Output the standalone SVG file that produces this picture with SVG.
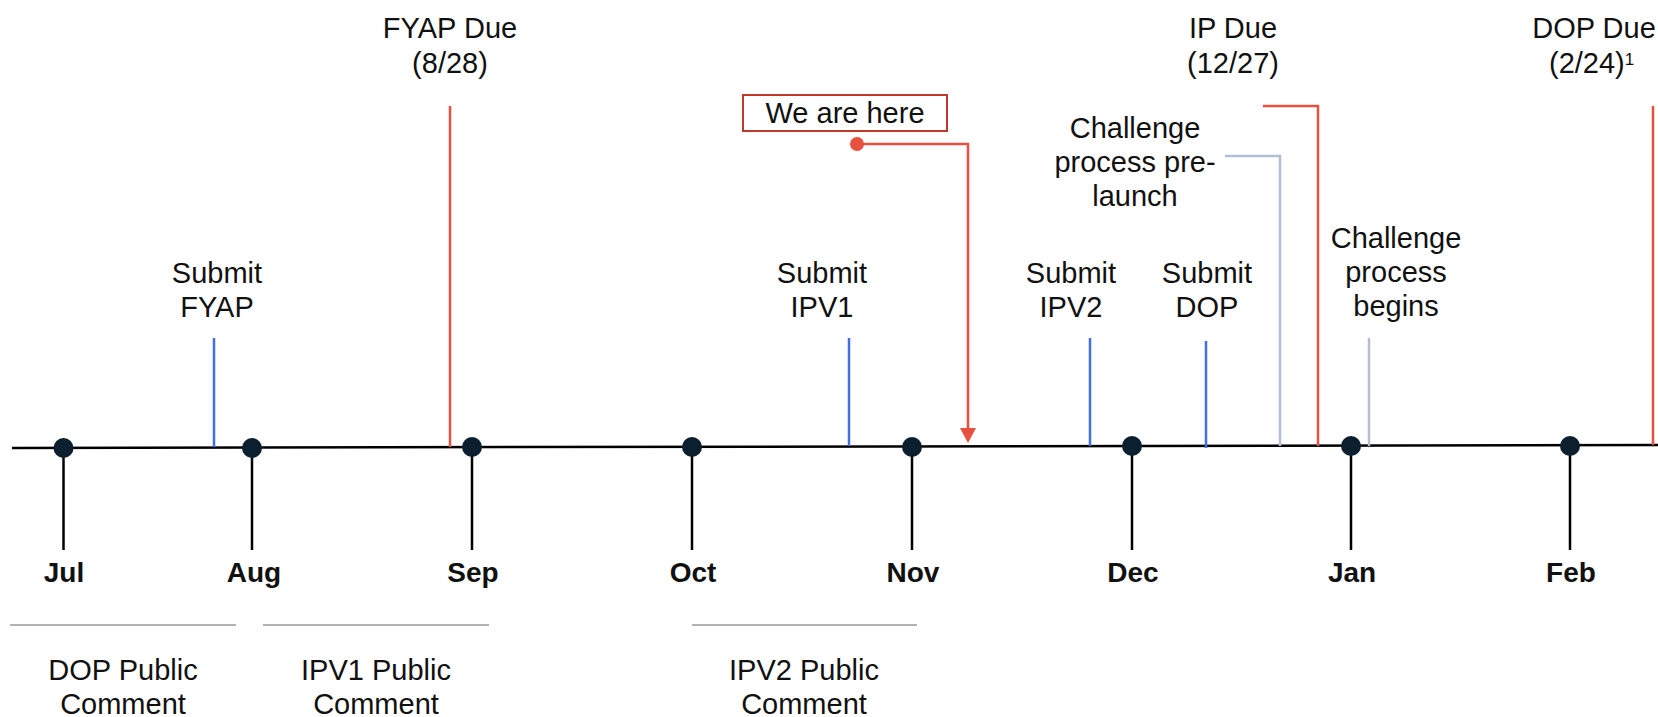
<svg xmlns="http://www.w3.org/2000/svg" width="1658" height="717" viewBox="0 0 1658 717">
<style>
text{font-family:"Liberation Sans",Arial,sans-serif;font-size:29px;fill:#111;text-anchor:middle}
.m{font-weight:bold;font-size:28px}
.red{stroke:#E8503F;stroke-width:2.5;fill:none}
.blue{stroke:#3F6FE0;stroke-width:2.5;fill:none}
.gray{stroke:#B3BFD1;stroke-width:2.5;fill:none}
.tick{stroke:#000;stroke-width:2.5}
.dot{fill:#0B1F2E}
.pc{stroke:#999;stroke-width:1.5}
</style>
<rect width="1658" height="717" fill="#fff"/>
<g id="connectors">
<line x1="12" y1="448" x2="1658" y2="445" stroke="#000" stroke-width="2.5"/>
<line class="blue" x1="214" y1="338" x2="214" y2="447"/>
<line class="red" x1="450" y1="106" x2="450" y2="447"/>
<line class="blue" x1="849" y1="338" x2="849" y2="446"/>
<line class="blue" x1="1090" y1="338" x2="1090" y2="446"/>
<line class="blue" x1="1206" y1="341" x2="1206" y2="448"/>
<polyline class="gray" points="1225,156 1280,156 1280,446"/>
<polyline class="red" points="1263,106 1318,106 1318,446"/>
<line class="gray" x1="1369" y1="338" x2="1369" y2="446"/>
<line class="red" x1="1653" y1="106" x2="1653" y2="445"/>
<polyline class="red" points="857,144 968,144 968,429"/>
<polygon points="960,428 976,428 968,443" fill="#E8503F"/>
<circle cx="857" cy="144" r="7" fill="#E8503F"/>
<line class="pc" x1="10" y1="625" x2="236" y2="625"/>
<line class="pc" x1="263" y1="625" x2="489" y2="625"/>
<line class="pc" x1="692" y1="625" x2="917" y2="625"/>
</g>
<g id="jul"><line class="tick" x1="63.5" y1="448" x2="63.5" y2="550"/><circle class="dot" cx="63.5" cy="448" r="10"/><text class="m" x="64" y="582">Jul</text></g>
<g id="aug"><line class="tick" x1="252" y1="448" x2="252" y2="550"/><circle class="dot" cx="252" cy="448" r="10"/><text class="m" x="254" y="582">Aug</text></g>
<g id="sep"><line class="tick" x1="472" y1="447" x2="472" y2="550"/><circle class="dot" cx="472" cy="447" r="10"/><text class="m" x="473" y="582">Sep</text></g>
<g id="oct"><line class="tick" x1="692" y1="447" x2="692" y2="550"/><circle class="dot" cx="692" cy="447" r="10"/><text class="m" x="693" y="582">Oct</text></g>
<g id="nov"><line class="tick" x1="912" y1="447" x2="912" y2="550"/><circle class="dot" cx="912" cy="447" r="10"/><text class="m" x="913" y="582">Nov</text></g>
<g id="dec"><line class="tick" x1="1132" y1="446" x2="1132" y2="550"/><circle class="dot" cx="1132" cy="446" r="10"/><text class="m" x="1133" y="582">Dec</text></g>
<g id="jan"><line class="tick" x1="1351" y1="446" x2="1351" y2="550"/><circle class="dot" cx="1351" cy="446" r="10"/><text class="m" x="1352" y="582">Jan</text></g>
<g id="feb"><line class="tick" x1="1570" y1="446" x2="1570" y2="550"/><circle class="dot" cx="1570" cy="446" r="10"/><text class="m" x="1571" y="582">Feb</text></g>
<g id="submit-fyap"><text x="217" y="283">Submit</text><text x="217" y="317">FYAP</text></g>
<g id="fyap-due"><text x="450" y="38">FYAP Due</text><text x="450" y="73">(8/28)</text></g>
<g id="we-are-here"><rect x="743" y="95" width="204" height="36" fill="#fff" stroke="#C0392B" stroke-width="2"/><text x="845" y="123">We are here</text></g>
<g id="submit-ipv1"><text x="822" y="283">Submit</text><text x="822" y="317">IPV1</text></g>
<g id="submit-ipv2"><text x="1071" y="283">Submit</text><text x="1071" y="317">IPV2</text></g>
<g id="submit-dop"><text x="1207" y="283">Submit</text><text x="1207" y="317">DOP</text></g>
<g id="challenge-prelaunch"><text x="1135" y="138">Challenge</text><text x="1135" y="172">process pre-</text><text x="1135" y="206">launch</text></g>
<g id="ip-due"><text x="1233" y="38">IP Due</text><text x="1233" y="73">(12/27)</text></g>
<g id="challenge-begins"><text x="1396" y="248">Challenge</text><text x="1396" y="282">process</text><text x="1396" y="316">begins</text></g>
<g id="dop-due"><text x="1594" y="38">DOP Due</text><text x="1549" y="73" style="text-anchor:start">(2/24)<tspan font-size="17" dy="-8">1</tspan></text></g>
<g id="dop-pc"><text x="123" y="680">DOP Public</text><text x="123" y="714">Comment</text></g>
<g id="ipv1-pc"><text x="376" y="680">IPV1 Public</text><text x="376" y="714">Comment</text></g>
<g id="ipv2-pc"><text x="804" y="680">IPV2 Public</text><text x="804" y="714">Comment</text></g>
</svg>
